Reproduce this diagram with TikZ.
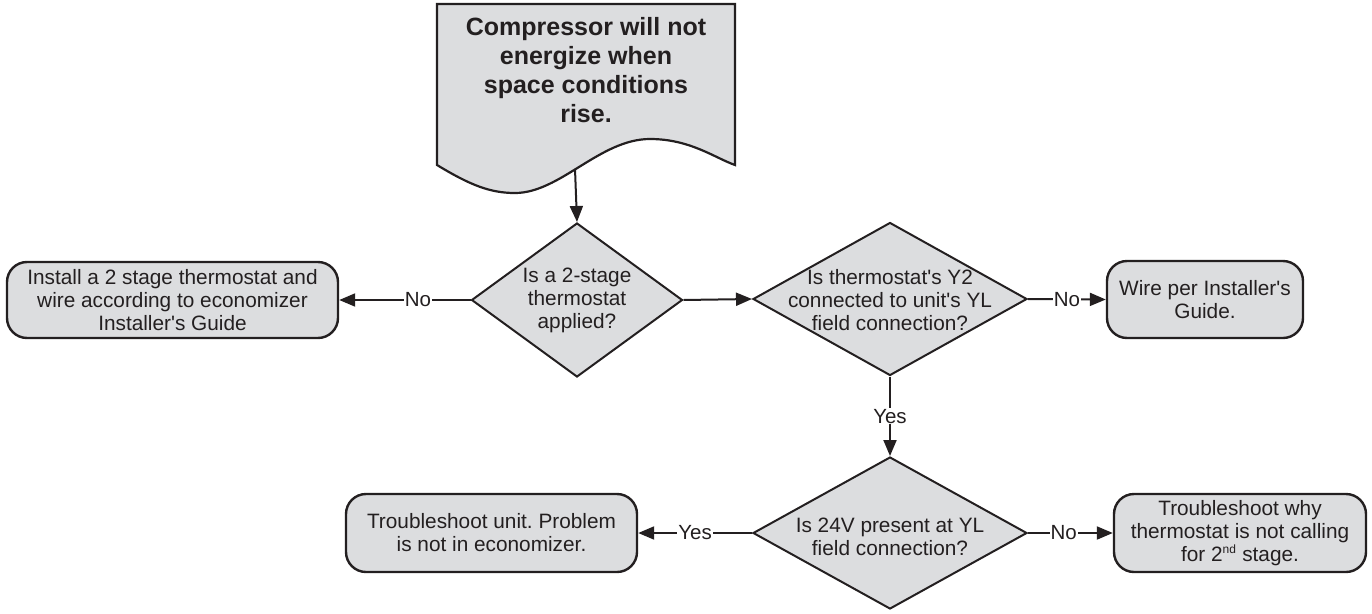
\documentclass[tikz,border=0pt]{standalone}
\usepackage{fontspec}
\setmainfont{Liberation Sans}[Ligatures=TeXOff]
\usetikzlibrary{shapes.geometric,arrows.meta}
\definecolor{boxfill}{HTML}{DCDDDF}
\definecolor{ink}{HTML}{231F20}
\frenchspacing
\begin{document}
\begin{tikzpicture}[x=1pt,y=-1pt,
  every node/.style={text=ink},
  txt/.style={font=\fontsize{20.8}{23}\selectfont, align=center},
  endbox/.style={draw=ink, line width=2.4pt, fill=boxfill, rounded corners=20pt, inner sep=0pt, txt},
  decision/.style={draw=ink, line width=2pt, fill=boxfill, shape=diamond, inner sep=0pt},
  conn/.style={draw=ink, line width=2pt, -{Triangle[length=16pt,width=13pt]}},
  lbl/.style={fill=white, inner sep=1pt, font=\fontsize{20.5}{22}\selectfont}
]
\useasboundingbox (0,0) rectangle (1372,613);

% start document shape
\draw[ink, line width=2.2pt, fill=boxfill]
  (437,4) -- (735,4) -- (735,165)
  .. controls (715,158) and (690,139) .. (650,139)
  .. controls (600,139) and (560,193) .. (515,193)
  .. controls (490,193) and (470,185) .. (437,165) -- cycle;
\node[font=\bfseries\fontsize{25}{29}\selectfont, align=center] (start) at (586,70.5)
  {Compressor will not\\energize when\\space conditions\\rise.};
\coordinate (startout) at (575,169);

% decisions
\node[decision, minimum width=211pt, minimum height=154pt] (d1) at (577,300) {};
\node[txt] (d1t) at (577,300) {Is a 2-stage\\thermostat\\applied?};
\node[decision, minimum width=274pt, minimum height=153pt] (d2) at (890,299) {};
\node[txt] (d2t) at (890,300) {Is thermostat's Y2\\connected to unit's YL\\field connection?};
\node[decision, minimum width=274pt, minimum height=152pt] (d3) at (890,533) {};
\node[txt] (d3t) at (890,537) {Is 24V present at YL\\field connection?};

% end boxes
\node[endbox, minimum width=331pt, minimum height=76pt] (b1) at (172.5,300)
  {Install a 2 stage thermostat and\\wire according to economizer\\Installer's Guide};
\node[endbox, minimum width=196pt, minimum height=77pt] (b2) at (1205,299.5)
  {Wire per Installer's\\Guide.};
\node[endbox, minimum width=291pt, minimum height=78pt] (b3) at (491.5,533)
  {Troubleshoot unit. Problem\\is not in economizer.};
\node[endbox, minimum width=252pt, minimum height=78pt] (b4) at (1240,533)
  {Troubleshoot why\\thermostat is not calling\\for 2\textsuperscript{\fontsize{12}{12}\selectfont nd} stage.};

% connectors
\draw[conn] (startout) -- (d1.north);
\draw[conn] (d1.west) -- node[lbl, pos=0.4] {No} (b1.east);
\draw[conn] (d1.east) -- (d2.west);
\draw[conn] (d2.east) -- node[lbl] {No} (b2.west);
\draw[conn] (d2.south) -- node[lbl] {Yes} (d3.north);
\draw[conn] (d3.west) -- node[lbl] {Yes} (b3.east);
\draw[conn] (d3.east) -- node[lbl, pos=0.42] {No} (b4.west);
\end{tikzpicture}
\end{document}
